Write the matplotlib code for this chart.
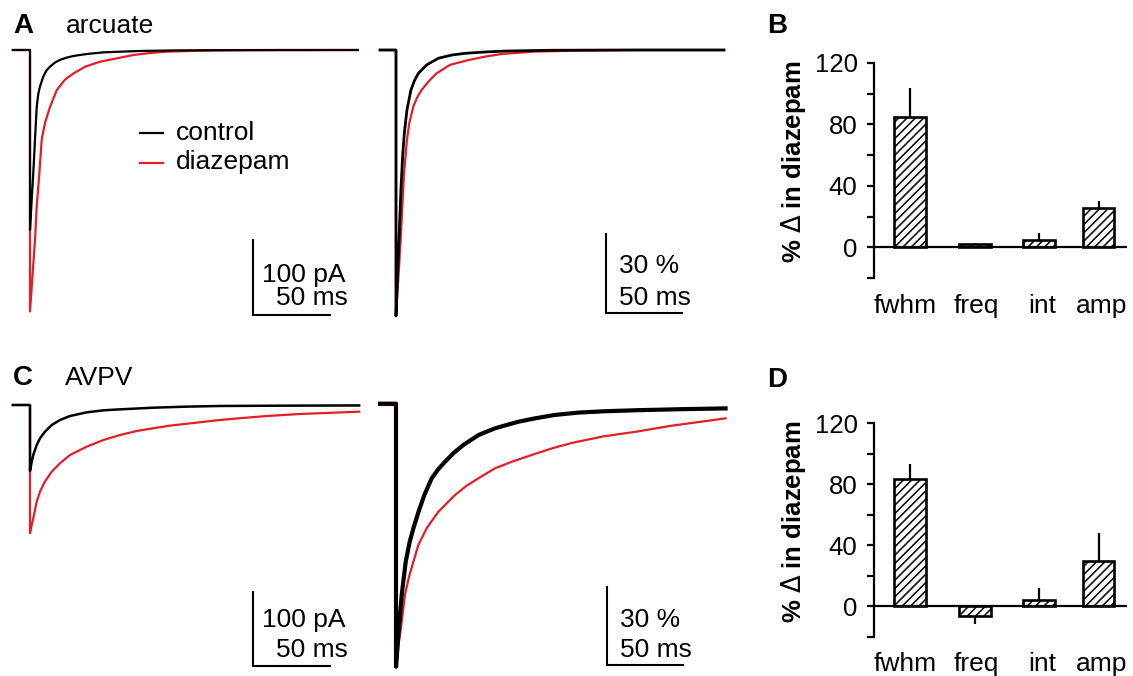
import matplotlib
matplotlib.use("Agg")
import matplotlib.pyplot as plt
from matplotlib.lines import Line2D

plt.rcParams['font.family'] = ['Liberation Sans', 'DejaVu Sans']
plt.rcParams['hatch.linewidth'] = 1.1
plt.rcParams['mathtext.fontset'] = 'dejavusans'

# ---------------- data ----------------
# Panel A, arcuate: averaged currents (ms, pA)
t_A_ctrl = [-11, 0, 0, 1.0, 2.1, 3.2, 4.3, 5.3, 6.4, 8.5, 10.5, 12.8, 16, 19.2, 23.5, 27.8, 36.3, 47, 57.7, 70.5, 90, 120, 160, 210]
i_A_ctrl = [0, 0, -237, -200, -162, -118, -75, -58, -48, -35, -27, -22, -16.5, -13, -10, -7.9, -5.3, -3.1, -2.2, -1.3, -0.6, -0.2, 0, 0]
t_A_diaz = [-11, 0, 0, 1.5, 3.2, 4.3, 6.0, 7.5, 9.6, 12.8, 17.1, 22.4, 27.8, 35.3, 44.9, 55.6, 66.2, 77, 87.6, 109, 140, 210]
i_A_diaz = [0, 0, -344, -300, -250, -206, -162, -118, -96, -75, -53, -39, -31, -22, -15.4, -11, -6.6, -4.0, -2.2, -0.9, -0.3, 0]

# Panel A, normalized (%)
t_An_ctrl = [-10.4, 0, 0, 1.0, 1.95, 3.2, 4.3, 5.4, 7.1, 9.7, 12, 14.5, 19.9, 27.5, 36.2, 44.8, 57.8, 70.8, 100, 150, 213]
p_An_ctrl = [0, 0, -100, -85, -71.4, -52.6, -40, -31.3, -22.6, -15, -11.5, -8.8, -5.6, -3.1, -1.9, -1.25, -0.75, -0.4, -0.1, 0, 0]
t_An_diaz = [-10.4, 0, 0, 1.5, 3.0, 4.1, 5.2, 7.1, 8.6, 11.2, 13.8, 16.6, 22, 26.3, 35, 46.9, 57.8, 68.6, 90, 120, 160, 213]
p_An_diaz = [0, 0, -100, -86, -71.4, -58.9, -46.4, -33.8, -27.6, -21.3, -17.8, -15, -11.3, -8.8, -5.6, -3.8, -2.5, -1.5, -0.6, -0.2, 0, 0]

# Panel C, AVPV: averaged currents (ms, pA)
t_C_ctrl = [-11, 0, 0, 1.0, 2.1, 4.3, 6.4, 9.6, 13.9, 19.2, 25.6, 36.3, 47, 57.7, 79, 100, 122, 160, 211]
i_C_ctrl = [0, 0, -88, -77, -66.7, -53.3, -44.4, -35.6, -26.7, -20, -14.7, -9.8, -7.1, -5.8, -3.6, -2.2, -1.3, -0.9, -0.6]
t_C_diaz = [-11, 0, 0, 1.0, 2.1, 4.3, 6.4, 9.6, 13.9, 19.2, 25.6, 36.3, 47, 57.7, 68.4, 79, 89.7, 100.4, 111, 121.8, 133.5, 151.7, 173, 211]
i_C_diaz = [0, 0, -171, -161, -151, -129, -115.6, -102, -89, -77.8, -66.7, -55.6, -46.7, -40, -34.7, -31, -27.5, -25, -22.5, -20, -17.8, -14.7, -12, -8.9]

# Panel C, normalized (%)
t_Cn_ctrl = [-10.4, 0, 0, 1.9, 3.7, 6.3, 8.8, 11.3, 14.8, 18.4, 23.2, 27.5, 31.8, 37.5, 43.7, 53.5, 64.3, 79.4, 90.3, 103.2, 118.4, 135, 156, 185, 214]
p_Cn_ctrl = [0.5, 0.5, -100, -85.3, -72.6, -59.9, -52.5, -47.1, -40.5, -34.4, -28, -24.5, -21.7, -18.3, -15.3, -11.5, -8.9, -6.4, -5.1, -3.8, -2.9, -2.4, -2.0, -1.6, -1.3]
t_Cn_diaz = [-10.4, 0, 0, 1.5, 3.2, 5.8, 8.5, 11.3, 14.5, 19.9, 27.5, 38.3, 45.5, 53.5, 64.3, 75.1, 88.1, 101.1, 114.1, 134.6, 156, 178, 214]
p_Cn_diaz = [0, 0, -100, -92, -85.3, -72.6, -65.5, -59.9, -53.5, -47.1, -40.8, -34.4, -31, -28, -24.2, -21.7, -19.1, -16.6, -14.5, -12, -10.2, -8, -5.1]

# Bar charts: % change in diazepam
categories = ['fwhm', 'freq', 'int', 'amp']
B_mean = [85, 2, 4.8, 25.6]
B_err = [18.5, 1, 4.3, 4.4]
D_mean = [83.6, -6.3, 3.9, 30]
D_err = [9.8, 5, 8, 18]
y_ticks = [-20, 0, 20, 40, 60, 80, 100, 120]
y_ticklabels = ['', '0', '', '40', '', '80', '', '120']

# ---------------- figure ----------------
W, H = 1133, 676
fig = plt.figure(figsize=(W / 100, H / 100), dpi=100)
RED = '#e41e26'
FS = 19


def px_axes(x0, y0, x1, y1):
    return fig.add_axes([x0 / W, 1 - y1 / H, (x1 - x0) / W, (y1 - y0) / H])


def ftext(x, y, s, **kw):
    kw.setdefault('fontsize', FS)
    kw.setdefault('ha', 'left')
    kw.setdefault('va', 'baseline')
    return fig.text(x / W, 1 - y / H, s, **kw)


def fline(x0, y0, x1, y1, **kw):
    fig.add_artist(Line2D([x0 / W, x1 / W], [1 - y0 / H, 1 - y1 / H],
                          transform=fig.transFigure, **kw))


def trace_panel(x0, x1, y0, y1, px_zero, py_base, sx, sy):
    ax = px_axes(x0, y0, x1, y1)
    ax.set_xlim((x0 - px_zero) / sx, (x1 - px_zero) / sx)
    ax.set_ylim((py_base - y1) / sy, (py_base - y0) / sy)
    ax.axis('off')
    return ax


def scale_bar(ax, px_zero, py_base, sx, sy, bx, by, vlen, hlen=50):
    t0 = (bx - px_zero) / sx
    v0 = (py_base - by) / sy
    ax.plot([t0, t0, t0 + hlen], [v0 + vlen, v0, v0], color='black', lw=1.5,
            solid_joinstyle='miter', solid_capstyle='butt', clip_on=False)


# ---- Panel A left
axA = trace_panel(5, 368, 5, 335, 30, 50, 1.56, 0.76)
axA.plot(t_A_diaz, i_A_diaz, color=RED, lw=1.6)
axA.plot(t_A_ctrl, i_A_ctrl, color='black', lw=1.6)
scale_bar(axA, 30, 50, 1.56, 0.76, 253, 315, 100)
ftext(262, 282, '100 pA')
ftext(276, 305, '50 ms')

# ---- Panel A right
axAn = trace_panel(375, 735, 5, 335, 396, 50, 1.54, 2.66)
axAn.plot(t_An_diaz, p_An_diaz, color=RED, lw=1.6)
axAn.plot(t_An_ctrl, p_An_ctrl, color='black', lw=2.0)
scale_bar(axAn, 396, 50, 1.54, 2.66, 606, 313, 30)
ftext(619, 273, '30 %')
ftext(619, 305, '50 ms')

# ---- Panel C left
axC = trace_panel(5, 368, 360, 690, 30, 405, 1.56, 0.75)
axC.plot(t_C_diaz, i_C_diaz, color=RED, lw=1.6)
axC.plot(t_C_ctrl, i_C_ctrl, color='black', lw=1.8)
scale_bar(axC, 30, 405, 1.56, 0.75, 253, 666, 100)
ftext(262, 627, '100 pA')
ftext(276, 657, '50 ms')

# ---- Panel C right
axCn = trace_panel(375, 735, 360, 690, 396, 405, 1.54, 2.617)
axCn.plot(t_Cn_diaz, p_Cn_diaz, color=RED, lw=1.6)
axCn.plot(t_Cn_ctrl, p_Cn_ctrl, color='black', lw=3.0)
scale_bar(axCn, 396, 405, 1.54, 2.617, 607, 665, 30)
ftext(620, 627, '30 %')
ftext(620, 657, '50 ms')

# ---- Legend (panel A)
fline(140, 133, 163, 133, color='black', lw=1.6)
fline(140, 163, 163, 163, color=RED, lw=1.6)
ftext(176, 140, 'control')
ftext(176, 169, 'diazepam')

# ---- Panel letters / titles
ftext(13, 33, 'A', fontweight='bold', fontsize=20)
ftext(66, 33, 'arcuate')
ftext(13, 385, 'C', fontweight='bold', fontsize=20)
ftext(65, 385, 'AVPV')
ftext(767, 33, 'B', fontweight='bold', fontsize=20)
ftext(767, 387, 'D', fontweight='bold', fontsize=20)

# ---- Bar panels
bar_pos = [0, 1, 1.985, 2.9]
label_pos = [-0.07, 1.02, 2.03, 2.95]


def bar_panel(y_zero, y_120, mean, err, ylab_y):
    sy = (y_zero - y_120) / 120.0
    x0, x1 = 873.5, 1127
    y0, y1 = y_120 - 10, y_zero + 22 * sy
    ax = px_axes(x0, y0, x1, y1)
    ax.set_xlim((x0 - 910) / 65.0, (x1 - 910) / 65.0)
    ax.set_ylim((y_zero - y1) / sy, (y_zero - y0) / sy)
    lower = [e if m < 0 else 0 for m, e in zip(mean, err)]
    upper = [e if m >= 0 else 0 for m, e in zip(mean, err)]
    ax.errorbar(bar_pos, mean, yerr=[lower, upper], fmt='none', ecolor='black',
                elinewidth=1.6, capsize=0, zorder=1)
    ax.bar(bar_pos, mean, width=0.49, color='white', edgecolor='black',
           hatch='////', linewidth=1.9, zorder=2)
    ax.axhline(0, color='black', lw=1.6, zorder=3)
    for s in ['top', 'right', 'bottom']:
        ax.spines[s].set_visible(False)
    ax.spines['left'].set_linewidth(1.6)
    ax.spines['left'].set_bounds(-20, 120)
    ax.set_xticks([])
    ax.set_yticks(y_ticks)
    ax.set_yticklabels(y_ticklabels)
    ax.tick_params(axis='y', direction='out', length=5, width=1.6, pad=6.5,
                   labelsize=18.5)
    for xp, lab in zip(label_pos, categories):
        ax.text(xp, -42.5, lab, ha='center', va='baseline', fontsize=19,
                clip_on=False)
    ax.patch.set_visible(False)
    ftext(794, ylab_y, r'% $\Delta$ in diazepam', rotation=90, ha='center',
          va='center', fontweight='bold', fontsize=18.5)
    return ax


bar_panel(247.3, 63, B_mean, B_err, 161.5)
bar_panel(606.3, 423.3, D_mean, D_err, 521.5)

fig.savefig('out.png', dpi=100)
